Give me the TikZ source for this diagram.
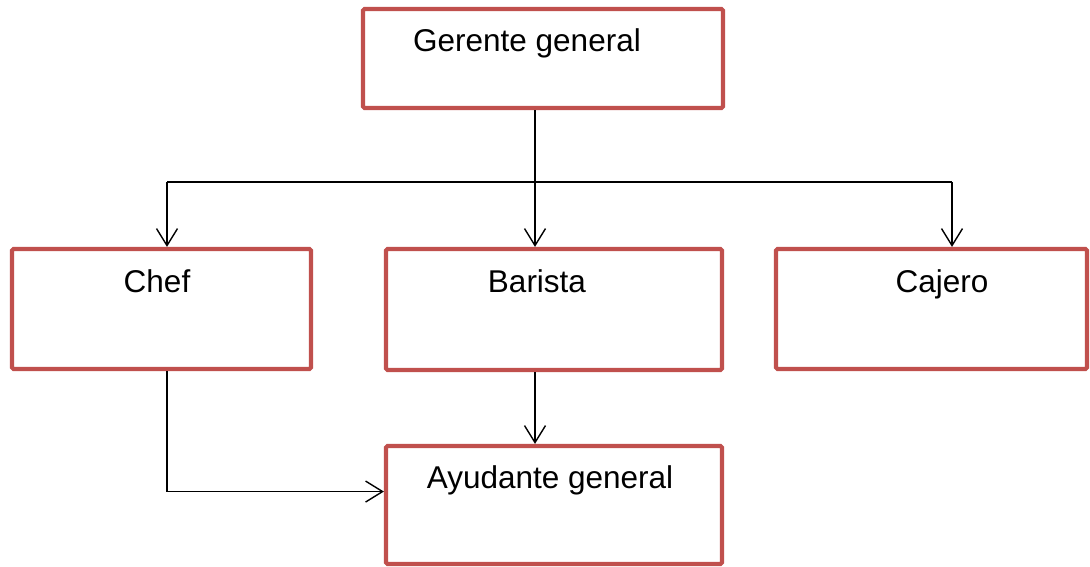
\documentclass[tikz,border=0pt]{standalone}
\usepackage{fontspec}
\setmainfont{Liberation Sans}
\usetikzlibrary{arrows.meta,calc}
\definecolor{boxred}{HTML}{C0504D}
\begin{document}
\begin{tikzpicture}[x=1pt,y=-1pt,
  box/.style={draw=boxred,line width=4.2pt,rounded corners=1.5pt,inner sep=0pt,fill=none},
  lbl/.style={anchor=base,inner sep=0pt,font=\fontsize{31.5}{36}\selectfont},
  conn/.style={draw=black,line width=1.4pt},
  arr/.style={conn,-{Straight Barb[length=17pt,width=21pt,line width=1.4pt]}}]
\useasboundingbox (0,0) rectangle (1090,567);
% boxes
\node[box,minimum width=360pt,minimum height=99pt] (ger) at (543,58.5) {};
\node[box,minimum width=299pt,minimum height=120pt] (chef) at (161.5,309) {};
\node[box,minimum width=336pt,minimum height=121pt] (bar) at (554,309.5) {};
\node[box,minimum width=311pt,minimum height=120pt] (caj) at (931.5,309) {};
\node[box,minimum width=336pt,minimum height=118pt] (ayu) at (554,505) {};
% labels
\node[lbl] (tger) at (527,52) {Gerente general};
\node[lbl] (tchef) at (157,292) {Chef};
\node[lbl] (tbar) at (537,292) {Barista};
\node[lbl] (tcaj) at (942,292) {Cajero};
\node[lbl] (tayu) at (550,488) {Ayudante general};
% connectors
\coordinate (hL) at (167,182);
\coordinate (hM) at (535,182);
\coordinate (hR) at (952,182);
\coordinate (aw) at ($(ayu.north west)!0.39!(ayu.south west)$);
\draw[conn] (ger.south -| hM) -- (hM);
\draw[conn] (hL) -- (hR);
\draw[arr] (hL) -- (hL |- chef.north);
\draw[arr] (hM) -- (hM |- bar.north);
\draw[arr] (hR) -- (hR |- caj.north);
\draw[arr] (bar.south -| hM) -- (hM |- ayu.north);
\draw[arr] (chef.south -| hL) |- (aw);
\end{tikzpicture}
\end{document}
